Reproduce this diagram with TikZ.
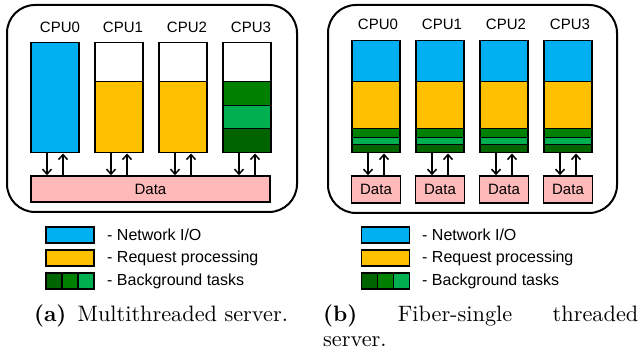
\documentclass[tikz,border=0pt]{standalone}
\usepackage{fontspec}
\newfontfamily\arial{Liberation Sans}
\usetikzlibrary{calc}
\usetikzlibrary{arrows.meta}

\definecolor{netio}{HTML}{00B0F0}
\definecolor{reqproc}{HTML}{FFC000}
\definecolor{bgdark}{HTML}{006400}
\definecolor{bgmid}{HTML}{008000}
\definecolor{bglight}{HTML}{00B050}
\definecolor{datapink}{HTML}{FFB9B9}

\tikzset{
  panel/.style={line width=2pt, rounded corners=28pt},
  seg/.style={draw, line width=1.5pt, minimum width=48pt, inner sep=0pt, anchor=north},
  cpulbl/.style={font=\arial\fontsize{15}{18}\selectfont, inner sep=0pt},
  arr/.style={-{Straight Barb[length=5pt,width=9pt]}, line width=1.5pt},
  databox/.style={draw, line width=1.5pt, fill=datapink, inner sep=0pt, font=\arial\fontsize{15}{18}\selectfont},
  swatch/.style={draw, line width=1.5pt, minimum width=48pt, minimum height=16pt, inner sep=0pt},
  legtext/.style={font=\arial\fontsize{16}{19}\selectfont, inner sep=0pt, anchor=west},
  captxt/.style={font=\fontsize{10}{11}\selectfont, inner sep=0pt},
}

\begin{document}
\begin{tikzpicture}[x=1pt,y=-1pt]
\useasboundingbox (0,0) rectangle (640,352);
% (a) multithreaded server
\draw[panel] (7,5) rectangle (297,212);
\node[cpulbl] (a0) at (60,27) {CPU0};
\node[cpulbl] (a1) at (123,27) {CPU1};
\node[cpulbl] (a2) at (187,27) {CPU2};
\node[cpulbl] (a3) at (251,27) {CPU3};

\node[seg, fill=netio, minimum height=110pt] (ab0) at (55,42) {};
\node[seg, fill=white, minimum height=39pt] (at1) at (119,42) {};
\node[seg, fill=reqproc, minimum height=71pt] (ab1) at (119,81) {};
\node[seg, fill=white, minimum height=39pt] (at2) at (183,42) {};
\node[seg, fill=reqproc, minimum height=71pt] (ab2) at (183,81) {};
\node[seg, fill=white, minimum height=39pt] (at3) at (247,42) {};
\node[seg, fill=bgmid, minimum height=24pt] (ag3) at (247,81) {};
\node[seg, fill=bglight, minimum height=23pt] (ah3) at (247,105) {};
\node[seg, fill=bgdark, minimum height=24pt] (ab3) at (247,128) {};

\node[databox, minimum width=239pt, minimum height=26pt] (adata) at (150.5,189) {Data};

\foreach \i in {0,...,3} {
  \draw[arr] ([xshift=-8pt]ab\i.south) -- ([xshift=-8pt]ab\i.south |- adata.north);
  \draw[arr] ([xshift=8pt]ab\i.south |- adata.north) -- ([xshift=8pt]ab\i.south);
}

% legend (a)
\node[swatch, fill=netio] (la1) at (70,235) {};
\node[legtext] (lt1) at (107,235) {- Network I/O};
\node[swatch, fill=reqproc] (la2) at (70,258) {};
\node[legtext] (lt2) at (107,258) {- Request processing};
\node[swatch, minimum width=16pt, fill=bgdark] (la3) at (54,281) {};
\node[swatch, minimum width=16pt, fill=bgmid] (la4) at (70,281) {};
\node[swatch, minimum width=16pt, fill=bglight] (la5) at (86,281) {};
\node[legtext] (lt3) at (107,281) {- Background tasks};

\node[captxt, anchor=base] (capa) at (161,322)
  {\scalebox{2.23}{\textbf{(a)}\enspace Multithreaded server.}};

% (b) fiber-single threaded server
\draw[panel] (328,5) rectangle (617,213);
\foreach \i/\x in {0/376,1/440,2/504,3/568} {
  \node[cpulbl] (b\i) at (\x+2,24) {CPU\i};
  \node[seg, fill=netio, minimum height=41pt] (bn\i) at (\x,40) {};
  \node[seg, fill=reqproc, minimum height=47pt] (br\i) at (\x,81) {};
  \node[seg, fill=bgmid, minimum height=9pt] (bg\i) at (\x,128) {};
  \node[seg, fill=bglight, minimum height=7pt] (bh\i) at (\x,137) {};
  \node[seg, fill=bgdark, minimum height=8pt] (bb\i) at (\x,144) {};
  \node[databox, minimum width=49pt, minimum height=27pt] (bd\i) at (\x,189.5) {Data};
  \draw[arr] ([xshift=-8pt]bb\i.south) -- ([xshift=-8pt]bb\i.south |- bd\i.north);
  \draw[arr] ([xshift=8pt]bb\i.south |- bd\i.north) -- ([xshift=8pt]bb\i.south);
}

% legend (b)
\node[swatch, fill=netio] (lb1) at (385.5,235) {};
\node[legtext] (ls1) at (422,235) {- Network I/O};
\node[swatch, fill=reqproc] (lb2) at (385.5,258) {};
\node[legtext] (ls2) at (422,258) {- Request processing};
\node[swatch, minimum width=16pt, fill=bgdark] (lb3) at (369.5,281) {};
\node[swatch, minimum width=16pt, fill=bgmid] (lb4) at (385.5,281) {};
\node[swatch, minimum width=16pt, fill=bglight] (lb5) at (401.5,281) {};
\node[legtext] (ls3) at (422,281) {- Background tasks};

\node[captxt, anchor=base west] (capb) at (323,322)
  {\scalebox{2.23}{\parbox[t]{141.3pt}{\textbf{(b)}\hfill Fiber-single\hfill threaded\\server.}}};
\end{tikzpicture}
\end{document}
